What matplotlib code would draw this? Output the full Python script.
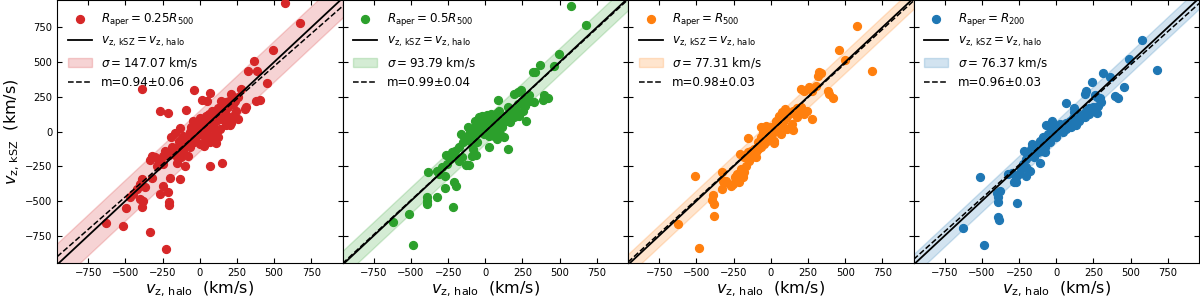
import numpy as np
import matplotlib
matplotlib.use("Agg")
import matplotlib.pyplot as plt

# ---------------- data ----------------
aper_labels = [r"$R_{\rm aper}=0.25R_{500}$", r"$R_{\rm aper}=0.5R_{500}$",
               r"$R_{\rm aper}=R_{500}$", r"$R_{\rm aper}=R_{200}$"]
sigmas = [147.07, 93.79, 77.31, 76.37]
slopes = [0.94, 0.99, 0.98, 0.96]
slope_errs = [0.06, 0.04, 0.03, 0.03]
colors = ["#d62728", "#2ca02c", "#ff7f0e", "#1f77b4"]

x1 = [574, 674, 491, 366, 322, 384, 455, 406, 380, 308,
      301, 210, 255, 279, 239, 194, -391, -42, -266, -212,
      -92, 13, 71, 49, 150, 201, 112, 29, 69, 147,
      -192, -167, -324, -333, -272, -250, -210, -152, -156, -76,
      -96, -130, -199, -391, -324, -250, -266, -216, -384, -402,
      -391, -496, -210, -208, -630, -514, -333, -226,
      -134, -67, -45, -22, 0, 34, 62, 80, 100, 130,
      143, 163, 190, 223, 246, 179, 212, 67, 94, 45,
      -22, -40, 0, 11, 56, 89, -18, 22, 67, 112,
      145, 167, -78, -100, -67, 34, 107, 134, 123, 71,
      190, 223, 257, 145, 179, 123, 156, 45, 27, -11,
      -34, -56, -111, -138, -152, -190, -174, -234, -250, -111,
      -123, -301, -290, -402, -368, -447, -424, -469,
      -10, 20, 40, 60, 90, 110, 120, 150, 170, -50]
y1 = [923, 782, 587, 508, 436, 434, 352, 230, 223, 180,
      163, 268, 251, 307, 223, 223, 307, 302, 151, 134,
      158, 228, 278, 223, 132, 50, -84, -106, -252, -226,
      -41, -8, -175, -202, -218, -237, -166, -226, -185, -175,
      -250, -341, -336, -341, -334, -389, -449, -437, -497, -485,
      -545, -550, -509, -530, -660, -679, -727, -849,
      26, -5, 79, 50, 98, 74, 127, 146, 112, 139,
      163, 103, 175, 199, 151, 50, 60, -41, -29, -65,
      -41, -77, -89, -17, 12, 43, -5, 26, 55, 74,
      91, 115, -53, -89, -113, -5, 2, 19, -41, -77,
      103, 115, 91, 223, 211, 170, 180, 50, -29, 31,
      12, 36, -29, -65, -113, -113, -142, -137, -180, -142,
      -185, -185, -245, -377, -401, -449, -413, -473,
      20, 50, 110, 90, 80, 120, 150, 150, 140, -30]

x2 = [576, 677, 496, 368, 460, 324, 333, 397, 420, 388,
      304, 326, 243, 223, 194, 268, 295, 275, 152, 83,
      -45, -118, -163, -138, 27, -85, -65, -87, -132, -109,
      -261, -210, -384, -324, -274, -207, -199, -274, -326, -393,
      -389, -393, -219, -514, -621, -485,
      -22, 11, 40, 67, 94, 123, 152, 179, 201, 223,
      246, 268, -34, 0, 33, 56, 85, 112, 138, 167,
      196, 228, 257, -67, -45, -11, 22, 56, 100, 123,
      78, -78, -101, -56, -123, -152, -179, -201, -223, -290,
      -257, -313, -156, -179, -235, -67,
      -20, 10, 50, 80, 100, 130, 160, -100, -40, 20]
y2 = [901, 769, 558, 479, 472, 427, 427, 263, 242, 230,
      223, 211, 299, 283, 271, 247, 263, 74, -123, 230,
      103, 31, -17, -48, -113, -123, -168, -178, -240, -240,
      -168, -185, -295, -281, -324, -365, -391, -410, -473, -473,
      -504, -521, -545, -595, -650, -816,
      115, 91, 127, 103, 151, 115, 175, 139, 163, 199,
      223, 187, 67, 43, 55, 19, 50, 31, 79, 67,
      103, 115, 151, 31, -5, -17, -29, -29, -17, -41,
      -53, -41, -65, -77, -41, -77, -113, -137, -149, -257,
      -233, -305, -185, -209, -197, 79,
      60, 120, 80, 130, 60, 100, 120, 0, 30, 0]

x3 = [583, 462, 498, 683, 321, 335, 315, 386, 420, 393,
      257, 306, 279, 203, 225, 279, 150, -156, 24, -208,
      -141, -98, -509, -331, -319, -313, -255, -268, -328, -391,
      -398, -380, -380, -625, -485,
      -201, -190, -212, -179, -228, -197, -168, -145, -123, -101,
      -85, -67, -45, -27, -11, 11, 33, 45, 67, 85,
      100, 112, 134, 152, 179, 201, 223, 246, 78, 94,
      56, 33, 0, -22, -49, -67, -89, -112, -134, -156,
      -179, -67, -34, 22, 67, 112, 145, 179, 212, -34,
      -217, -241, -302]
y3 = [760, 590, 515, 434, 431, 419, 400, 290, 242, 268,
      323, 331, 295, 307, 290, 93, 14, -46, -82, -159,
      -166, -185, -322, -290, -353, -372, -377, -394, -415, -456,
      -490, -521, -605, -665, -840,
      -305, -329, -341, -293, -305, -269, -245, -209, -185, -149,
      -125, -113, -89, -65, -41, -17, 7, 36, 50, 67,
      98, 115, 131, 151, 170, 180, 127, 151, 139, 163,
      115, 79, 31, 12, -5, -41, -77, -125, -137, -149,
      -185, 31, -41, -65, -17, 19, 55, 103, 139, 43,
      -365, -329, -353]

x4 = [576, 491, 674, 312, 364, 239, 201, 192, 275, 295,
      261, 397, 413, 455, 272, 67, 121, 116, -161, -147,
      -214, -96, -76, -112, -326, -295, -268, -281, -514, -402,
      -380, -391, -395, -389, -386, -264, -630, -489,
      -67, -45, -22, -5, 11, 33, 49, 67, 89, 112,
      134, 156, 179, 201, 223, 246, 279, 304, 45, 67,
      100, 134, 22, -11, -34, -56, -89, -112, -138, -168,
      -190, -201, -223, -235, -205, -250, -201, -179, -268, -152,
      -123, -78, -45, 0, 156, 190, 223, 246, -27, -67]
y4 = [661, 522, 446, 422, 395, 359, 290, 271, 247, 242,
      263, 254, 242, 319, 134, 206, 167, 139, -89, -101,
      -144, -137, -149, -226, -305, -300, -365, -367, -329, -444,
      -432, -473, -509, -617, -641, -516, -693, -816,
      -65, -41, -17, 2, 19, 31, 50, 60, 79, 98,
      108, 115, 127, 151, 170, 180, 187, 211, -5, 19,
      36, 50, 55, 43, 19, -17, -41, -65, -113, -125,
      -161, -197, -233, -269, -257, -305, -317, -286, -329, -185,
      -149, -113, -77, -41, 79, 103, 127, 151, 79, 50]

xs = [x1, x2, x3, x4]
ys = [y1, y2, y3, y4]

ticks = [-750, -500, -250, 0, 250, 500, 750]
xlim = (-960, 960)
ylim = (-950, 945)

# ---------------- plot ----------------
fig, axes = plt.subplots(1, 4, figsize=(12, 3), dpi=100, sharey=True)
fig.subplots_adjust(left=0.0475, right=0.9992, bottom=0.122, top=0.999, wspace=0)

line = np.linspace(-1000, 1000, 200)
for i, ax in enumerate(axes):
    c = colors[i]
    ax.scatter(xs[i], ys[i], s=32, color=c, label=aper_labels[i], zorder=3)
    ax.plot(line, line, color="black", lw=1.3,
            label=r"$v_{\rm z,\,kSZ}=v_{\rm z,\,halo}$", zorder=4)
    ax.fill_between(line, line - sigmas[i], line + sigmas[i], color=c, alpha=0.2,
                    label=r"$\sigma=%.2f$ km/s" % sigmas[i], zorder=1)
    ax.plot(line, slopes[i] * line, color="black", ls="--", lw=1.1,
            label="m=%.2f±%.2f" % (slopes[i], slope_errs[i]), zorder=4)
    ax.set_xlim(*xlim)
    ax.set_ylim(*ylim)
    ax.set_xticks(ticks)
    ax.set_yticks(ticks)
    ax.tick_params(direction="in", top=True, right=True, labelsize=7.2)
    ax.set_xlabel(r"$v_{\rm z,\,halo}$  (km/s)", fontsize=11.5, labelpad=1)
    ax.legend(loc="upper left", frameon=False, fontsize=8.6)
    if i > 0:
        ax.tick_params(labelleft=False)

axes[0].set_ylabel(r"$v_{\rm z,\,kSZ}$  (km/s)", fontsize=11.5, labelpad=2)

fig.savefig("out.png", dpi=100)
